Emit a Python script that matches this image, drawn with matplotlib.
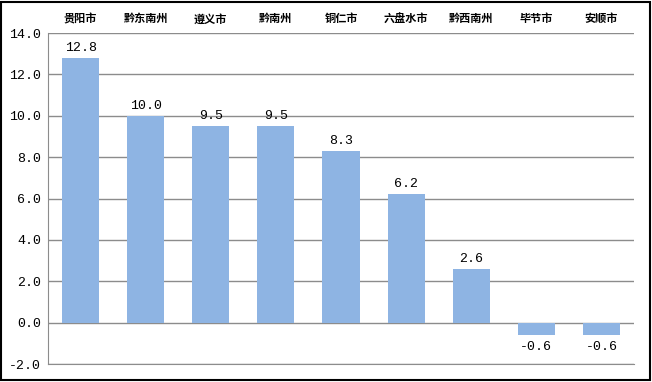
import numpy as np
import matplotlib.pyplot as plt
from matplotlib.patches import Rectangle

plt.rcParams['font.family'] = ['Noto Sans CJK SC', 'DejaVu Sans']

# 各市州数值
regions = ['贵阳市', '黔东南州', '遵义市', '黔南州', '铜仁市', '六盘水市', '黔西南州', '毕节市', '安顺市']
values = [12.8, 10.0, 9.5, 9.5, 8.3, 6.2, 2.6, -0.6, -0.6]
yticks = [-2.0, 0.0, 2.0, 4.0, 6.0, 8.0, 10.0, 12.0, 14.0]

num_font = ['Liberation Mono', 'DejaVu Sans Mono']

fig = plt.figure(figsize=(6.52, 3.82), dpi=100)
ax = fig.add_axes([0.0736, 0.0471, 0.8988, 0.8665])

x = np.arange(len(regions))
ax.bar(x, values, width=0.57, color='#8EB4E3', zorder=3)

for xi, v in zip(x, values):
    if v >= 0:
        ax.annotate(f'{v:.1f}', (xi, v), xytext=(0, 3), textcoords='offset points',
                    ha='center', va='bottom', fontsize=9.5, family=num_font)
    else:
        ax.annotate(f'{v:.1f}', (xi, v), xytext=(0, -4), textcoords='offset points',
                    ha='center', va='top', fontsize=9.5, family=num_font)

ax.set_ylim(-2, 14)
ax.set_xlim(-0.5, len(regions) - 0.5)
ax.set_yticks(yticks)
ax.set_yticklabels([f'{t:.1f}' for t in yticks], fontsize=9.5, family=num_font)
ax.yaxis.grid(True, color='#8c8c8c', linewidth=1, zorder=0)
ax.tick_params(axis='y', length=0, pad=5)

ax.xaxis.tick_top()
ax.set_xticks(x)
ax.set_xticklabels(regions, fontsize=8, fontweight='bold')
ax.tick_params(axis='x', length=0, pad=5.5)

for s in ['top', 'right']:
    ax.spines[s].set_visible(False)
ax.spines['left'].set_color('#8c8c8c')
ax.spines['bottom'].set_color('#8c8c8c')

# 外框
fig.patches.append(Rectangle((0.002, 0.004), 0.995, 0.992, transform=fig.transFigure,
                             fill=False, edgecolor='black', linewidth=1.5))

plt.savefig('out.png', dpi=100)
